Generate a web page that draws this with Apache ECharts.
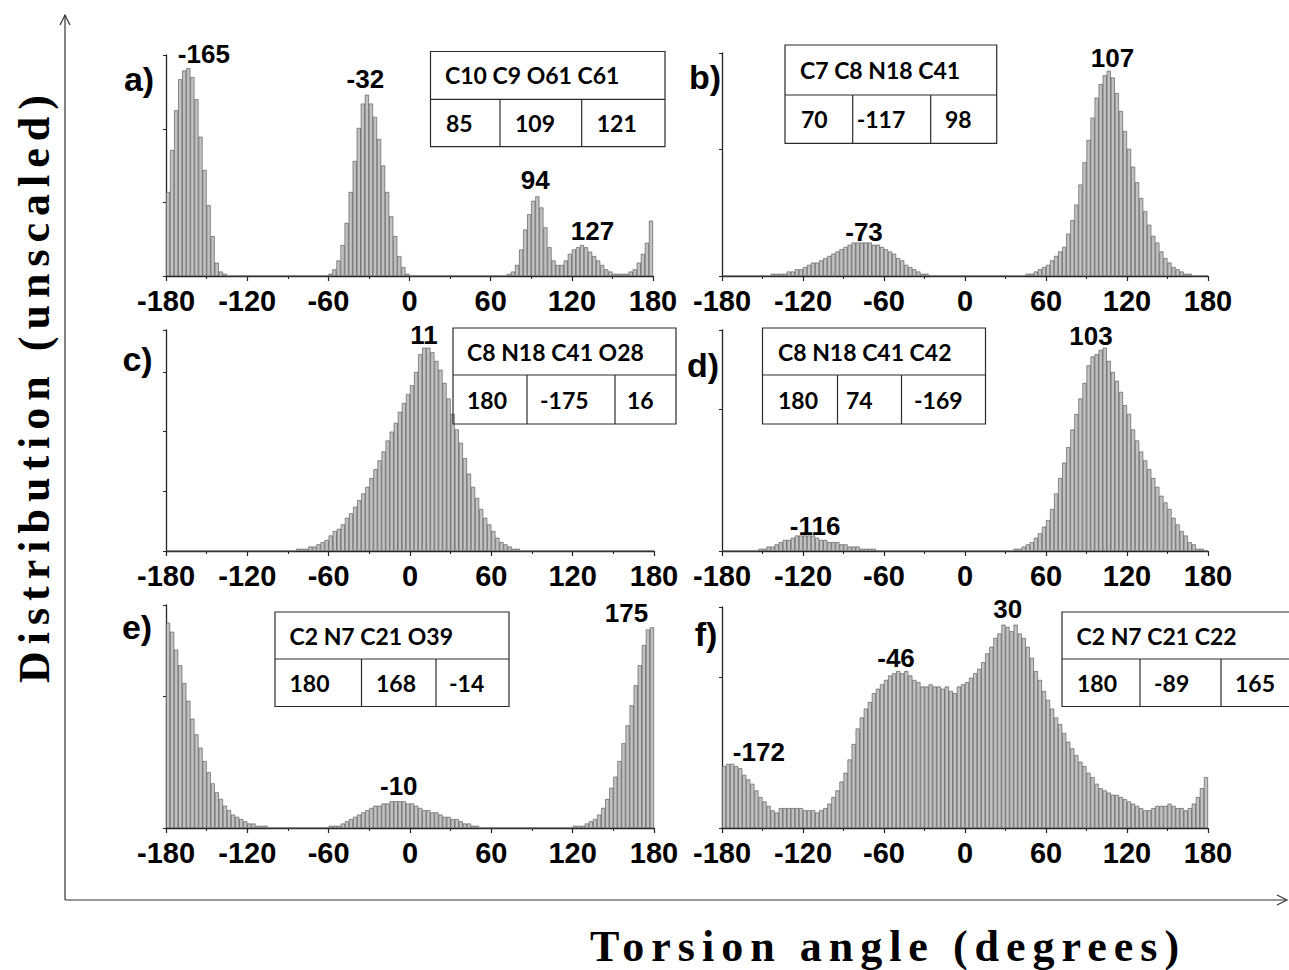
<!DOCTYPE html>
<html>
<head>
<meta charset="utf-8">
<script src="https://cdn.jsdelivr.net/npm/echarts@6/dist/echarts.min.js"></script>
<style>
html,body{margin:0;padding:0;background:#fff;}
#chart{width:1289px;height:970px;}
#chart text[style*="Liberation Serif"], #chart text[font-family*="Liberation Serif"]{letter-spacing:7px;}
</style>
</head>
<body>
<div id="chart"></div>
<script>
// ---------------- data ----------------
const panelLetters = ['a)', 'b)', 'c)', 'd)', 'e)', 'f)'];
const xTickLabels = ['-180', '-120', '-60', '0', '60', '120', '180'];
const binStart = -180;   // histogram bins of 3 degrees, 120 bins from -180 to 180
const binWidth = 3;

// heights: unscaled, 100 = top of each panel's y axis
const distA = [
  38,57,75,89,93,94,90,80,63,48,
  32,18,6,2,1,0,0,0,0,0,
  0,0,0,0,0,0,0,0,0,0,
  0,0,0,0,0,0,0,0,0,0,
  1,3,7,14,24,38,52,67,78,82,
  78,72,62,50,38,27,18,9,4,1,
  0,0,0,0,0,0,0,0,0,0,
  0,0,0,0,0,0,0,0,0,0,
  0,0,0,0,1,2,5,12,21,28,
  34,36,31,22,13,7,5,5,7,10,
  12,13,14,13,11,9,7,5,3,2,
  1,1,1,1,2,3,6,10,15,25
];
const distB = [
  0,0,0,0,0,0,0,0,0,0,
  0,0,1,1,1,1,2,2,3,3,
  4,5,6,6,7,8,9,10,11,12,
  13,14,15,15,15,15,15,14,14,13,
  12,11,10,8,7,5,4,3,2,1,
  1,0,0,0,0,0,0,0,0,0,
  0,0,0,0,0,0,0,0,0,0,
  0,0,0,0,0,1,1,2,3,4,
  5,7,9,11,13,19,25,32,41,51,
  61,71,80,86,90,92,89,82,74,65,
  57,49,42,35,29,23,18,15,11,8,
  6,4,3,2,1,1,0,0,0,0
];
const distC = [
  0,0,0,0,0,0,0,0,0,0,
  0,0,0,0,0,0,0,0,0,0,
  0,0,0,0,0,0,0,0,0,0,
  0,0,1,1,1,2,2,3,4,5,
  7,9,10,12,15,17,20,23,26,29,
  33,37,41,45,50,54,58,63,67,71,
  75,81,89,92,92,90,86,82,76,69,
  62,55,49,42,35,29,24,19,15,12,
  9,6,4,3,2,1,1,0,0,0,
  0,0,0,0,0,0,0,0,0,0,
  0,0,0,0,0,0,0,0,0,0,
  0,0,0,0,0,0,0,0,0,0
];
const distD = [
  0,0,0,0,0,0,0,0,0,1,
  1,2,2,3,4,5,5,6,7,7,
  7,7,7,6,5,5,4,4,4,3,
  3,2,2,2,1,1,1,1,0,0,
  0,0,0,0,0,0,0,0,0,0,
  0,0,0,0,0,0,0,0,0,0,
  0,0,0,0,0,0,0,0,0,0,
  0,0,1,1,2,3,4,6,8,11,
  14,19,26,33,40,47,55,62,69,76,
  84,88,89,91,92,86,81,77,72,66,
  62,55,50,45,41,37,33,29,25,22,
  19,15,12,9,7,4,3,1,1,0
];
const distE = [
  92,88,80,73,65,57,49,42,36,30,
  25,20,16,13,10,8,6,5,4,3,
  2,2,1,1,1,0,0,0,0,0,
  0,0,0,0,0,0,0,0,0,0,
  1,1,1,2,3,4,5,6,7,8,
  9,10,10,11,11,12,12,12,12,11,
  11,10,9,8,8,7,7,6,5,5,
  4,4,3,2,2,1,1,0,0,0,
  0,0,0,0,0,0,0,0,0,0,
  0,0,0,0,0,0,0,0,0,0,
  1,1,1,2,3,4,6,9,13,18,
  23,30,38,46,55,64,73,82,89,90
];
const distF = [
  28,29,29,28,27,24,22,20,17,14,
  12,10,8,7,9,9,9,9,9,9,
  8,8,8,7,8,9,11,14,17,21,
  25,31,38,45,50,54,57,61,63,65,
  67,69,70,71,70,71,69,67,66,64,
  64,65,64,64,63,64,62,61,64,65,
  66,68,70,72,75,79,82,86,88,92,
  91,89,92,88,86,82,77,71,67,62,
  58,54,50,47,43,39,36,33,30,28,
  25,23,20,18,17,16,15,15,14,13,
  12,11,10,9,8,8,9,10,10,10,
  11,10,9,9,8,9,11,14,18,23
];

const peaksA = ['-165', '-32', '94', '127'];
const peaksB = ['107', '-73'];
const peaksC = ['11'];
const peaksD = ['103', '-116'];
const peaksE = ['175', '-10'];
const peaksF = ['30', '-46', '-172'];

const tableHeads = ['C10 C9 O61 C61', 'C7 C8 N18 C41', 'C8 N18 C41 O28', 'C8 N18 C41 C42', 'C2 N7 C21 O39', 'C2 N7 C21 C22'];
const tableVals = [
  ['85', '109', '121'],
  ['70', '-117', '98'],
  ['180', '-175', '16'],
  ['180', '74', '-169'],
  ['180', '168', '-14'],
  ['180', '-89', '165']
];

const xTitle = 'Torsion angle (degrees)';
const yTitle = 'Distribution (unscaled)';

// ---------------- layout (pixels / label anchor positions) ----------------
const layout = [
  { grid: {left:166, top:55, width:487, height:221}, yTick: 33.3,
    peakPos: [[-152,100.4],[-32.6,89],[92.9,43.5],[135.2,20.4]], letterPos: [139,79],
    table: {l:430.5, r:665, t:51.5, m:99.3, b:146.7, seps:[500,581.7], hx:445, vx:[446,515,596.7]} },
  { grid: {left:722, top:53, width:486, height:223}, yTick: 57,
    peakPos: [[109.3,97.6],[-74.8,19.9]], letterPos: [705,77],
    table: {l:785, r:996.7, t:45, m:95, b:143.3, seps:[852.7,930.7], hx:800, vx:[801,856.7,945]} },
  { grid: {left:166, top:330, width:488, height:221}, yTick: 27,
    peakPos: [[10.4,97.7]], letterPos: [137.5,359],
    table: {l:453, r:676, t:328, m:375, b:424, seps:[527,615], hx:467, vx:[467,540,627]} },
  { grid: {left:722, top:330, width:486, height:221}, yTick: 64,
    peakPos: [[93.3,97.3],[-111,11.3]], letterPos: [703,365],
    table: {l:762.5, r:985.5, t:328, m:375, b:424, seps:[837.5,901.5], hx:778, vx:[778,846,914]} },
  { grid: {left:166, top:605, width:488, height:223}, yTick: 59,
    peakPos: [[159.7,96.3],[-8.3,18.9]], letterPos: [137,627],
    table: {l:275, r:509, t:612, m:659, b:706.5, seps:[361.5,436], hx:289.5, vx:[289.5,376,449]} },
  { grid: {left:722, top:607, width:486, height:221}, yTick: 68,
    peakPos: [[31.6,99.1],[-51.1,76.8],[-152.7,34.5]], letterPos: [706,634],
    table: {l:1062, r:1300, t:612, m:659, b:706.5, seps:[1140,1221], hx:1076.5, vx:[1077,1154,1235]} }
];

const dists = [distA, distB, distC, distD, distE, distF];
const peakTexts = [peaksA, peaksB, peaksC, peaksD, peaksE, peaksF];

// ---------------- build option ----------------
const AXIS_COLOR = '#222';
const grids = [], xAxes = [], yAxes = [], series = [], graphics = [];

dists.forEach((dist, i) => {
  const L = layout[i];
  grids.push(Object.assign({containLabel:false}, L.grid));
  xAxes.push({
    type: 'value', gridIndex: i, min: -180, max: 180, interval: 60,
    axisLine: {show:true, onZero:false, lineStyle:{color:AXIS_COLOR, width:1.3}},
    axisTick: {show:true, inside:false, length:5, lineStyle:{color:AXIS_COLOR, width:1.2}},
    minorTick: {show:true, splitNumber:2, length:3, lineStyle:{color:AXIS_COLOR, width:1}},
    splitLine: {show:false}, minorSplitLine: {show:false},
    axisLabel: {show:true, margin:10, color:'#000', fontFamily:'Liberation Sans', fontWeight:'bold', fontSize:29,
      showMinLabel:true, showMaxLabel:true,
      formatter: v => xTickLabels[Math.round((v + 180) / 60)]}
  });
  yAxes.push({
    type: 'value', gridIndex: i, min: 0, max: 100, interval: L.yTick,
    axisLine: {show:true, onZero:false, lineStyle:{color:AXIS_COLOR, width:1.3}},
    axisTick: {show:true, inside:false, length:3, lineStyle:{color:AXIS_COLOR, width:1}},
    axisLabel: {show:false}, splitLine: {show:false}
  });
  series.push({
    type: 'bar', xAxisIndex: i, yAxisIndex: i, silent: true, animation: false,
    barWidth: '100%',
    itemStyle: {color:'#c2c2c2', borderColor:'#4a4a4a', borderWidth:0.6},
    data: dist.map((v, k) => [binStart + binWidth * (k + 0.5), v])
  });

  // panel letter
  graphics.push({type:'text', x:L.letterPos[0], y:L.letterPos[1], z:10,
    style:{text:panelLetters[i], fill:'#000', font:'bold 34px "Liberation Sans"', textAlign:'center', textVerticalAlign:'middle', verticalAlign:'middle'}});

  // table
  const T = L.table;
  const lineStyle = {stroke:'#2a2a2a', lineWidth:1.2};
  graphics.push({type:'rect', z:10, shape:{x:T.l, y:T.t, width:T.r - T.l, height:T.b - T.t}, style:Object.assign({fill:'none'}, lineStyle)});
  graphics.push({type:'line', z:10, shape:{x1:T.l, y1:T.m, x2:T.r, y2:T.m}, style:lineStyle});
  T.seps.forEach(sx => graphics.push({type:'line', z:10, shape:{x1:sx, y1:T.m, x2:sx, y2:T.b}, style:lineStyle}));
  const tableFont = 'bold 23px Lato';
  graphics.push({type:'text', x:T.hx, y:(T.t + T.m) / 2, z:10,
    style:{text:tableHeads[i], fill:'#000', font:tableFont, textAlign:'left', textVerticalAlign:'middle', verticalAlign:'middle'}});
  tableVals[i].forEach((t, k) => graphics.push({type:'text', x:T.vx[k], y:(T.m + T.b) / 2, z:10,
    style:{text:t, fill:'#000', font:tableFont, textAlign:'left', textVerticalAlign:'middle', verticalAlign:'middle'}}));
});

// outer frame with arrows
const frameStyle = {stroke:'#333', lineWidth:1.2, fill:'none'};
graphics.push({type:'line', z:10, shape:{x1:65, y1:15, x2:65, y2:900}, style:frameStyle});
graphics.push({type:'line', z:10, shape:{x1:65, y1:900, x2:1286, y2:900}, style:frameStyle});
graphics.push({type:'polyline', z:10, shape:{points:[[60,25],[65,15],[70,25]]}, style:frameStyle});
graphics.push({type:'polyline', z:10, shape:{points:[[1277,895],[1287,900],[1277,905]]}, style:frameStyle});

// axis titles
graphics.push({type:'text', x:590, y:946, z:10,
  style:{text:xTitle, fill:'#000', font:'bold 44px "Liberation Serif"', textAlign:'left', textVerticalAlign:'middle', verticalAlign:'middle'}});
graphics.push({type:'text', x:34, y:683, rotation:Math.PI / 2, z:10,
  style:{text:yTitle, fill:'#000', font:'bold 44px "Liberation Serif"', textAlign:'left', textVerticalAlign:'middle', verticalAlign:'middle'}});

const chart = echarts.init(document.getElementById('chart'), null, {renderer:'svg'});
chart.setOption({
  animation: false,
  backgroundColor: '#fff',
  grid: grids,
  xAxis: xAxes,
  yAxis: yAxes,
  series: series,
  graphic: graphics
});

// peak labels placed through each panel's own axes
dists.forEach((dist, i) => {
  peakTexts[i].forEach((t, k) => {
    const p = chart.convertToPixel({gridIndex: i}, layout[i].peakPos[k]);
    graphics.push({type:'text', x:p[0], y:p[1], z:10,
      style:{text:t, fill:'#000', font:'bold 26px "Liberation Sans"', textAlign:'center', textVerticalAlign:'middle', verticalAlign:'middle'}});
  });
});
chart.setOption({graphic: graphics});
</script>
</body>
</html>
